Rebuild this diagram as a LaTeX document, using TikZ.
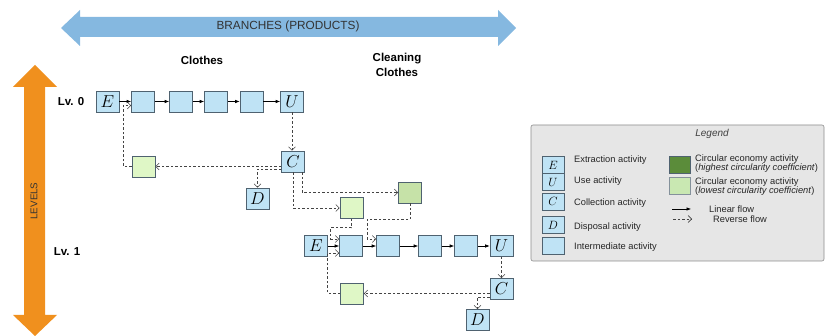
\documentclass[tikz,border=0pt]{standalone}
\usepackage{fontspec}
\setmainfont{Liberation Sans}
\usetikzlibrary{arrows.meta}
\definecolor{boxblue}{HTML}{BFE3F5}
\definecolor{boxedge}{HTML}{4F6270}
\definecolor{lgreen}{HTML}{DFF7C6}
\definecolor{mgreen}{HTML}{C6E2A8}
\definecolor{dgreen}{HTML}{5B8C3A}
\definecolor{legl}{HTML}{C9E8B2}
\definecolor{arrblue}{HTML}{85B8E0}
\definecolor{arrorange}{HTML}{F0901E}
\definecolor{legbg}{HTML}{E6E6E6}
\definecolor{dashcol}{HTML}{444444}
\begin{document}
\begin{tikzpicture}[x=1pt,y=-1pt,
  act/.style={draw=boxedge,fill=boxblue,line width=0.6pt,minimum width=23pt,minimum height=21pt,inner sep=0pt,font=\fontsize{16}{16}\selectfont},
  gact/.style={act,fill=lgreen},
  mact/.style={act,fill=mgreen},
  licon/.style={draw=boxedge,fill=boxblue,line width=0.6pt,minimum width=22pt,minimum height=17pt,inner sep=0pt,font=\fontsize{13}{13}\selectfont},
  lin/.style={-{Latex[length=4.5pt,width=3.5pt]},line width=0.6pt,black},
  rev/.style={-{Straight Barb[length=3.5pt,width=7pt]},dash pattern=on 2.5pt off 2pt,line width=0.6pt,dashcol},
  ltxt/.style={anchor=west,font=\fontsize{9.3}{9}\selectfont,text=black!85,inner sep=0pt},
  lvl/.style={font=\bfseries\fontsize{11.5}{14.5}\selectfont}]
\useasboundingbox (0,0) rectangle (825,336);
% big arrows
\fill[arrblue] (61,28)--(80,10)--(80,17)--(498,17)--(498,10)--(516,28)--(498,46)--(498,37)--(80,37)--(80,46)--cycle;
\node[font=\fontsize{11.8}{13}\selectfont,text=black!80] (branches) at (288,26) {BRANCHES (PRODUCTS)};
\fill[arrorange] (35,65)--(57,87)--(45,87)--(45,315)--(57,315)--(35,336)--(13,315)--(24,315)--(24,87)--(13,87)--cycle;
\node[rotate=90,font=\fontsize{9.8}{11}\selectfont,text=black!80] (levels) at (34,201) {LEVELS};
% headings
\node[lvl] (clothes) at (202,60) {Clothes};
\node[lvl,align=center] (cleaning) at (397,65) {Cleaning\\Clothes};
\node[lvl] (lv0) at (71,101.5) {Lv. 0};
\node[lvl] (lv1) at (67,252) {Lv. 1};
% row 0
\node[act] (e0) at (107.5,101.5) {$E$};
\node[act] (a1) at (143,101.5) {};
\node[act] (a2) at (181,101.5) {};
\node[act] (a3) at (216,101.5) {};
\node[act] (a4) at (251.5,101.5) {};
\node[act] (u0) at (292,101.5) {$U$};
\node[act] (c0) at (293,161.5) {$C$};
\node[gact] (g0) at (143.5,166.5) {};
\node[act] (d0) at (257.5,198.5) {$D$};
\node[gact] (g1) at (351.5,208) {};
\node[mact] (g2) at (410,192.5) {};
% row 1
\node[act] (e1) at (316,246) {$E$};
\node[act] (b1) at (351,246) {};
\node[act] (b2) at (388,246) {};
\node[act] (b3) at (430,246) {};
\node[act] (b4) at (466,246) {};
\node[act] (u1) at (501.5,246) {$U$};
\node[act] (c1) at (501.5,289) {$C$};
\node[gact] (g3) at (352,293.5) {};
\node[act] (d1) at (477.5,320) {$D$};
% linear flows
\draw[lin] (e0) -- (a1);
\draw[lin] (a1) -- (a2);
\draw[lin] (a2) -- (a3);
\draw[lin] (a3) -- (a4);
\draw[lin] (a4) -- (u0);
\draw[lin] (e1) -- (b1);
\draw[lin] (b1) -- (b2);
\draw[lin] (b2) -- (b3);
\draw[lin] (b3) -- (b4);
\draw[lin] (b4) -- (u1);
% reverse flows row 0
\draw[rev] (u0.south) -- (u0.south |- c0.north);
\draw[rev] (c0.west |- g0.east) -- (g0.east);
\draw[rev] (g0.west) -| ([xshift=-8pt,yshift=-4pt]a1.west) -- ([yshift=-4pt]a1.west);
\draw[rev] ([yshift=-7.5pt]c0.west) -| (d0.north);
\draw[rev] (c0.south) |- (g1.west);
\draw[rev] ([xshift=9pt]c0.south) |- (g2.west);
\draw[rev] (g1.south) -- ([yshift=-9pt]g1.south) -| ([xshift=-8.5pt,yshift=7pt]b1.west) -- ([yshift=7pt]b1.west);
\draw[rev] (g2.south) -- ([yshift=-16pt]g2.south) -| ([xshift=-9pt,yshift=7pt]b2.west) -- ([yshift=7pt]b2.west);
% reverse flows row 1
\draw[rev] (g3.west) -| ([xshift=-11.5pt,yshift=-7pt]b1.west) -- ([yshift=-7pt]b1.west);
\draw[rev] (u1.south) -- (c1.north);
\draw[rev] (c1.west |- g3.east) -- (g3.east);
\draw[rev] ([yshift=-8pt]c1.west) -| (d1.north);
% legend
\draw[draw=black!45,fill=legbg,rounded corners=2pt,line width=0.6pt] (531,125) rectangle (824,261);
\node[font=\itshape\fontsize{10}{11}\selectfont,text=black!75] (legt) at (712,134) {Legend};
\node[licon] (le) at (553,165) {$E$};
\node[licon] (lu) at (553,182) {$U$};
\node[licon] (lc) at (553,201.5) {$C$};
\node[licon] (ld) at (553,225) {$D$};
\node[licon] (li) at (553,246) {};
\node[ltxt] (tle) at (574,160) {Extraction activity};
\node[ltxt] (tlu) at (574,181) {Use activity};
\node[ltxt] (tlc) at (574,203) {Collection activity};
\node[ltxt] (tld) at (574,227) {Disposal activity};
\node[ltxt] (tli) at (574,247) {Intermediate activity};
\node[draw=boxedge,fill=dgreen,minimum width=21pt,minimum height=17pt,inner sep=0pt,line width=0.6pt] (ldg) at (679.5,164.5) {};
\node[draw=boxedge!70,fill=legl,minimum width=21pt,minimum height=17pt,inner sep=0pt,line width=0.6pt] (llg) at (679.5,185.5) {};
\node[ltxt,align=left,font=\fontsize{9.3}{7.5}\selectfont] (tdg) at (695,163.5) {Circular economy activity\\(\textit{highest circularity coefficient})};
\node[ltxt,align=left,font=\fontsize{9.3}{7.5}\selectfont] (tlg) at (695,186.5) {Circular economy activity\\(\textit{lowest circularity coefficient})};
\coordinate (lf1) at (672,209);
\coordinate (lf2) at (691,209);
\coordinate (rf1) at (673,219);
\coordinate (rf2) at (692,219);
\draw[lin] (lf1) -- (lf2);
\draw[rev] (rf1) -- (rf2);
\node[ltxt] (tlf) at (709,209) {Linear flow};
\node[ltxt] (trf) at (713,219) {Reverse flow};
\end{tikzpicture}
\end{document}
